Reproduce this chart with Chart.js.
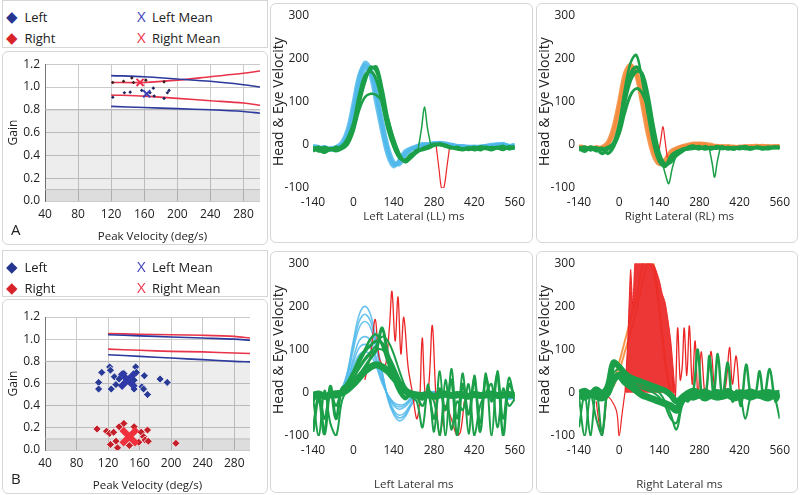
<!DOCTYPE html>
<html>
<head>
<meta charset="UTF-8">
<title>Gain and velocity traces</title>
<script src="https://cdn.jsdelivr.net/npm/chart.js"></script>
<style>
body {margin:0; background:#fff; font-family:"Open Sans", sans-serif; color:#222}
#page {position:relative; width:800px; height:495px; overflow:hidden}
.box {position:absolute; border:1px solid #d6d6d6; border-radius:6px; box-sizing:border-box}
.box div.cv {position:absolute; left:0; top:0; right:0; bottom:0}
.leg {position:absolute; border:1px solid #d6d6d6; box-sizing:border-box}
.it {position:absolute; font-size:13px; white-space:nowrap}
.it b {font-weight:normal; display:inline-block; width:15px; font-size:15px}
.tag {position:absolute; font-size:15px}
</style>
</head>
<body>
<div id="page">
  <div class="leg" style="left:2px;top:0;width:266px;height:48px">
    <span class="it" style="left:3px;top:5px"><b style="color:#26358f">◆</b> Left</span>
    <span class="it" style="left:3px;top:26px"><b style="color:#d8232a">◆</b> Right</span>
    <span class="it" style="left:134px;top:5px"><b style="color:#3a3fb6">X</b>Left Mean</span>
    <span class="it" style="left:134px;top:26px"><b style="color:#f0304a">X</b>Right Mean</span>
  </div>
  <div class="box" style="left:2px;top:51px;width:266px;height:194px"><div class="cv"><canvas id="gainA"></canvas></div></div>
  <div class="tag" style="left:11px;top:219px">A</div>
  <div class="box" style="left:270px;top:3px;width:263px;height:240px"><div class="cv"><canvas id="llA"></canvas></div></div>
  <div class="box" style="left:536px;top:3px;width:262px;height:240px"><div class="cv"><canvas id="rlA"></canvas></div></div>

  <div class="leg" style="left:2px;top:250px;width:266px;height:47px">
    <span class="it" style="left:3px;top:5px"><b style="color:#26358f">◆</b> Left</span>
    <span class="it" style="left:3px;top:26px"><b style="color:#d8232a">◆</b> Right</span>
    <span class="it" style="left:134px;top:5px"><b style="color:#3a3fb6">X</b>Left Mean</span>
    <span class="it" style="left:134px;top:26px"><b style="color:#f0304a">X</b>Right Mean</span>
  </div>
  <div class="box" style="left:2px;top:299px;width:266px;height:195px"><div class="cv"><canvas id="gainB"></canvas></div></div>
  <div class="tag" style="left:11px;top:468px">B</div>
  <div class="box" style="left:270px;top:251px;width:263px;height:242px"><div class="cv"><canvas id="llB"></canvas></div></div>
  <div class="box" style="left:536px;top:251px;width:262px;height:242px"><div class="cv"><canvas id="rlB"></canvas></div></div>
</div>

<script>
// ---- gain panels ----
const velTicks = [40, 80, 120, 160, 200, 240, 280];
const gainTicks = [0, 0.2, 0.4, 0.6, 0.8, 1.0, 1.2];
const lineVel = [120, 160, 200, 240, 280, 300];

// A
const aLeftVel = [122, 136, 143, 157, 167, 171, 172, 184, 188, 190];
const aLeftGain = [0.91, 0.95, 0.955, 0.97, 0.95, 0.99, 0.92, 0.90, 0.95, 0.97];
const aRightVel = [122, 135, 145, 147, 162, 184];
const aRightGain = [1.04, 1.05, 1.08, 1.04, 1.06, 1.045];
const aLeftMean = [163, 0.94];
const aRightMean = [155, 1.04];
const aLeftUpper = [1.10, 1.09, 1.07, 1.05, 1.02, 1.00];
const aLeftLower = [0.83, 0.82, 0.81, 0.80, 0.785, 0.77];
const aRightUpper = [1.04, 1.04, 1.06, 1.09, 1.12, 1.14];
const aRightLower = [0.93, 0.92, 0.90, 0.88, 0.86, 0.84];

// B
const bLeftVel = [108, 108, 112, 122, 123, 124, 128, 130, 134, 140, 141, 153, 155, 156, 153, 163, 165, 166, 170, 186, 195];
const bLeftGain = [0.61, 0.55, 0.70, 0.75, 0.72, 0.55, 0.66, 0.59, 0.64, 0.69, 0.61, 0.63, 0.75, 0.70, 0.55, 0.57, 0.55, 0.67, 0.50, 0.64, 0.61];
const bRightVel = [106, 118, 122, 123, 127, 130, 132, 134, 140, 141, 147, 153, 159, 162, 165, 167, 170, 171, 206];
const bRightGain = [0.19, 0.17, 0.15, 0.05, 0.16, 0.08, 0.02, 0.21, 0.24, 0.16, 0.04, 0.21, 0.07, 0.16, 0.12, 0.09, 0.18, 0.08, 0.06];
const bLeftMean = [145, 0.63];
const bRightMean = [147, 0.12];
const bLeftUpper = [1.04, 1.03, 1.02, 1.01, 1.00, 0.99];
const bLeftLower = [0.86, 0.845, 0.83, 0.815, 0.80, 0.795];
const bRightUpper = [1.05, 1.045, 1.04, 1.035, 1.025, 1.01];
const bRightLower = [0.91, 0.90, 0.89, 0.885, 0.875, 0.87];

// ---- velocity traces ----
const msTicks = [-140, 0, 140, 280, 420, 560];
const velocityTicks = [-100, 0, 100, 200, 300];
const timeMs = [-140,-120,-100,-80,-60,-40,-20,0,20,40,60,80,100,120,140,160,180,200,220,240,260,280,300,320,340,360,380,400,420,440,460,480,500,520,540,560];

// A, left lateral
const llHeadA = [-5,-8,-6,-10,-8,0,25,80,150,190,175,115,45,-15,-45,-40,-20,-10,-5,0,2,3,5,2,0,-3,-5,-5,-4,-6,-3,-2,0,2,-3,0];
const llHeadB = [-3,-5,-10,-8,-5,5,35,95,160,185,160,95,30,-25,-50,-35,-15,-8,-3,2,0,4,3,0,-2,-4,-3,-6,-5,-4,-2,0,1,0,-4,-2];
const llHeadC = [-8,-10,-5,-12,-6,-2,20,70,135,175,170,120,55,-5,-40,-45,-25,-12,-5,-2,0,2,4,3,0,-2,-4,-4,-6,-5,-4,-3,0,1,-2,-1];
const llEyeA = [-10,-5,-15,-8,-12,-5,10,40,100,150,175,180,130,60,10,-25,-40,-30,-18,-10,-5,0,2,-2,-5,-8,-10,-6,-12,-8,-5,-10,-8,-3,-10,-6];
const llEyeB = [-5,-15,-10,-12,-5,-8,5,35,95,145,180,170,120,50,0,-30,-35,-22,-15,-8,-3,2,0,-3,-8,-5,-10,-8,-5,-12,-6,-8,-5,-10,-4,-8];
const llEyeC = [-15,-10,-5,-10,-15,-10,0,30,80,110,118,115,100,60,15,-20,-40,-30,-18,-10,-5,0,3,0,-6,-10,-8,-12,-8,-6,-10,-5,-8,-12,-6,-10];
const llEyeD = [-8,-12,-18,-10,-8,-3,15,50,115,160,170,150,95,35,-5,-30,-35,-25,-12,-12,-8,-2,0,-4,-6,-10,-12,-8,-10,-4,-8,-12,-6,-5,-8,-3];
const llSpikeX = [225, 237, 247, 257, 270];
const llSpikeY = [-10, 40, 88, 40, -5];
const llDipX = [287, 298, 306, 314, 325, 335];
const llDipY = [0, -60, -100, -100, -50, 0];

// A, right lateral
const rlHeadA = [-5,-8,-6,-10,-5,5,40,100,165,185,160,95,25,-25,-45,-35,-15,-8,-3,0,3,2,0,-3,-2,-5,-3,-6,-4,-5,-3,-2,-4,-3,-5,-2];
const rlHeadB = [-3,-6,-10,-5,-8,0,25,85,150,180,170,115,45,-10,-40,-45,-25,-10,-5,-2,0,3,2,0,-4,-3,-5,-4,-6,-3,-5,-4,-2,-5,-3,-4];
const rlEyeA = [-5,-10,-8,-15,-10,-5,5,50,130,190,208,150,70,0,-40,-50,-25,-15,-10,-8,-5,-3,-8,-5,-6,-10,-5,-8,-6,-10,-5,-8,-6,-5,-8,-6];
const rlEyeB = [-10,-5,-12,-8,-20,-10,0,40,115,165,180,160,95,20,-35,-50,-30,-18,-12,-10,-8,-5,-10,-6,-8,-5,-10,-6,-9,-5,-8,-6,-10,-7,-5,-8];
const rlEyeC = [-8,-15,-5,-10,-8,-20,-5,30,100,150,170,165,115,40,-20,-45,-40,-25,-15,-6,-3,-8,-5,-10,-4,-8,-6,-10,-5,-8,-10,-5,-7,-9,-6,-5];
const rlEyeD = [-12,-8,-10,-6,-12,-8,0,25,75,115,130,120,85,25,-25,-45,-35,-20,-10,-8,-6,-10,-4,-8,-6,-5,-8,-10,-6,-4,-8,-6,-9,-5,-7,-6];
const rlDipX = [150, 162, 173, 185, 198];
const rlDipY = [-40, -70, -90, -55, -25];
const rlBumpX = [138, 146, 153, 160, 168];
const rlBumpY = [-20, 15, 42, 10, -30];
const rlDip2X = [315, 325, 333, 342, 352];
const rlDip2Y = [-10, -45, -75, -40, -8];

// B, left lateral
const blHeadA = [-5,-8,-5,-10,-5,10,50,120,180,200,180,120,50,-15,-50,-65,-55,-30,-10,-2,0,3,0,-5,-3,-6,-8,-5,-10,-6,-8,-12,-10,-8,-15,-12];
const blHeadE = [-4,-7,-6,-9,-4,9,45,110,165,182,165,110,45,-12,-45,-58,-50,-28,-9,-1,1,2,-1,-4,-5,-6,-7,-5,-9,-6,-7,-10,-9,-9,-13,-11];
const blHeadB = [-3,-5,-8,-6,-3,8,40,100,150,165,150,100,40,-10,-40,-52,-45,-25,-8,0,2,0,-3,-4,-6,-5,-8,-6,-8,-5,-10,-8,-6,-10,-12,-10];
const blHeadC = [-6,-4,-6,-8,-4,6,30,80,120,130,120,80,30,-8,-30,-38,-32,-18,-6,0,0,2,-2,-5,-4,-6,-5,-8,-6,-8,-6,-10,-8,-6,-10,-8];
const blHeadF = [-5,-5,-4,-7,-5,5,26,70,104,112,104,70,26,-6,-26,-33,-28,-15,-5,0,0,1,-2,-4,-4,-5,-5,-7,-6,-7,-6,-9,-7,-7,-8,-7];
const blHeadD = [-4,-6,-3,-5,-6,4,22,60,88,95,88,60,22,-5,-22,-28,-25,-12,-4,0,1,0,-2,-3,-5,-4,-6,-5,-7,-6,-5,-8,-6,-8,-7,-6];
const blEyeA = [-90,-10,-95,15,-60,10,20,45,70,95,110,120,115,85,45,10,-10,0,-5,-15,5,-10,0,-8,-5,-10,0,-6,-5,-8,-3,-6,-4,-8,-5,-6];
const blEyeB = [-5,-8,-3,-10,-6,-2,15,35,55,75,90,100,100,85,55,25,5,-10,-20,-80,20,-90,50,-100,55,-60,45,-95,40,-70,45,-100,50,-60,35,-20];
const blEyeC = [-10,-100,5,-70,-100,-20,10,30,60,80,95,110,130,120,90,50,15,0,-10,-15,-10,-20,-100,30,-85,-20,-40,20,-100,-30,0,20,-80,10,-30,-15];
const blEyeD = [-8,-5,-12,-6,-10,-3,10,25,40,60,80,100,150,90,60,30,5,-5,-8,-10,-5,-8,-3,-6,-8,-4,-10,-6,-5,-8,-6,-4,-8,-5,-6,-8];
const blEyeE = [-5,-3,-8,-5,-2,0,8,20,35,50,60,65,60,50,35,20,5,-2,-5,-6,-4,-8,-5,-3,-6,-4,-5,-8,-4,-6,-5,-3,-6,-5,-4,-6];
const blEyeF = [-20,-5,-60,0,-30,5,25,50,80,100,125,135,110,70,30,0,-15,-5,-10,-30,-5,-60,10,-40,30,-100,20,-50,30,-90,35,-20,40,-100,20,-10];
const blRedX = [40,60,76,90,110,125,134,145,155,165,175,190,205,220,230,239,250,262,274,286,300,320,340,360,372,385];
const blRedY = [30,90,170,80,60,150,235,120,222,90,175,60,0,-60,-20,127,-10,20,156,0,-100,-30,-60,-100,-90,-20];

// B, right lateral
const brHeadA = [-5,-8,-5,-6,-4,0,25,70,120,170,220,290,330,300,200,80,0,-20,-10,-5,-3,-6,-4,-8,-5,-6,-4,-8,-6,-5,-7,-4,-6,-8,-5,-10];
const brHeadB = [-4,-6,-3,-8,-5,2,15,50,95,140,190,250,300,280,190,70,0,-20,-8,-4,-5,-3,-6,-5,-4,-7,-5,-6,-4,-8,-5,-6,-7,-5,-6,-8];
const brRedTopX = [20,30,40,48,55,65,80,100,115,125,140,150,160,170,180,188,195];
const brRedTopY = [0,120,285,200,300,300,300,300,300,290,260,230,210,170,120,60,0];
const brRedSpikeX = [185,195,204,213,220,227,236,245,255,265,275,286,300,312,321,335,350,370,385,395,408,420];
const brRedSpikeY = [40,-20,150,30,60,150,40,155,20,120,-10,95,-5,50,95,0,-10,10,105,20,85,-10];
const brRedPreX = [-80,-70,-60,-50,-40,-10,0,10,20];
const brRedPreY = [-20,-70,-100,-60,-10,-40,-100,-50,0];
const brEyeA = [-80,-5,-100,10,-90,20,60,65,50,30,20,15,10,5,0,-20,-50,-85,-30,-10,-5,-8,-3,-6,-5,-8,-4,-10,-6,-8,-5,-10,-6,-8,-5,-12];
const brEyeB = [-10,-100,-5,-60,-100,10,45,55,35,25,15,10,5,0,-10,-30,-60,-70,-20,-15,-5,-10,-3,-8,-5,-12,-6,-8,-4,-60,-8,-5,-10,-6,-8,-60];
const brEyeD = [-5,-10,-3,-8,-12,0,30,40,25,15,5,-5,-10,-15,-20,-25,-30,-40,-15,-8,-10,-5,-12,-6,-10,-8,-5,-12,-8,-6,-10,-5,-8,-12,-6,-10];
const brEyeE = [0,5,-2,8,0,15,70,60,45,35,30,25,20,15,10,5,-5,-20,-10,0,5,0,3,-2,2,0,4,-3,1,0,3,-2,0,2,-1,0];
const brOscX = [220,240,260,274,290,305,315,330,344,360,379,395,410,425,443,460,475,490,505,525,545,560];
const brOscY = [-10,-20,10,100,-15,10,85,-5,90,-10,70,-20,5,-30,65,-10,-5,50,-15,55,-20,-5];

const CYAN = 'rgba(80,185,235,0.85)', GREEN = '#1b9f48', ORANGE = 'rgba(244,140,60,0.9)', RED = '#ec2626';
const NAVY = '#2a3b96', DRED = '#c4202a';
const FONT = { family: '"Open Sans", sans-serif', size: 12 };
const XFONT = { family: '"Open Sans", sans-serif', size: 11.5 };
const YFONT = { family: '"Open Sans", sans-serif', size: 14 };

function pts(xs, ys) { return xs.map((x, i) => ({ x: x, y: ys[i] })); }

function trace(xs, ys, color, width, order) {
  return { data: pts(xs, ys), borderColor: color, borderWidth: width, pointRadius: 0, tension: 0.35, order: order, fill: false };
}

function traceChart(id, xTitle, xHeight, titlePad, datasets) {
  return new Chart(document.getElementById(id), {
    type: 'line',
    data: { datasets: datasets },
    options: {
      responsive: true, maintainAspectRatio: false, animation: false,
      layout: { padding: { top: 10, right: 16 } },
      plugins: { legend: { display: false }, tooltip: { enabled: false } },
      scales: {
        x: {
          type: 'linear', min: -140, max: 560,
          afterBuildTicks: s => { s.ticks = msTicks.map(v => ({ value: v })); },
          afterFit: s => { s.height = xHeight; },
          grid: { display: false, drawTicks: false }, border: { display: false },
          ticks: { padding: 7, color: '#222', font: FONT },
          title: { display: true, text: xTitle, color: '#333', font: XFONT, padding: { top: 0, bottom: titlePad } }
        },
        y: {
          min: -100, max: 300,
          afterBuildTicks: s => { s.ticks = velocityTicks.map(v => ({ value: v })); },
          afterFit: s => { s.width = 42; },
          grid: { display: false, drawTicks: false }, border: { display: false },
          ticks: { padding: 4, color: '#222', font: FONT },
          title: { display: true, text: 'Head & Eye Velocity', color: '#222', font: YFONT, padding: 0 }
        }
      }
    }
  });
}

function bandLine(y, color, fillColor, order) {
  return { data: [{ x: 40, y: y }, { x: 300, y: y }], showLine: true, fill: 'origin', backgroundColor: fillColor,
           borderColor: color, borderWidth: 1, pointRadius: 0, order: order };
}
function gainLine(ys, color) {
  return { data: pts(lineVel, ys), showLine: true, borderColor: color, borderWidth: 1.6, pointRadius: 0, tension: 0.3, order: 5 };
}
function dots(xs, ys, color, r, border) {
  return { data: pts(xs, ys), pointStyle: 'rectRot', pointRadius: r, backgroundColor: color,
           borderColor: border, borderWidth: border ? 1 : 0, order: 2 };
}
function meanMark(m, color, r, w) {
  return { data: [{ x: m[0], y: m[1] }], pointStyle: 'crossRot', pointRadius: r, borderColor: color, borderWidth: w, order: 1 };
}

function gainChart(id, datasets) {
  return new Chart(document.getElementById(id), {
    type: 'scatter',
    data: { datasets: datasets },
    options: {
      responsive: true, maintainAspectRatio: false, animation: false,
      layout: { padding: { top: 9, right: 0 } },
      plugins: { legend: { display: false }, tooltip: { enabled: false } },
      scales: {
        x: {
          type: 'linear', min: 40, max: 300,
          afterBuildTicks: s => { s.ticks = velTicks.map(v => ({ value: v })); },
          afterFit: s => { s.height = 43; },
          grid: { color: '#cacaca', drawTicks: false }, border: { display: false },
          ticks: { padding: 6, color: '#222', font: FONT },
          title: { display: true, text: 'Peak Velocity (deg/s)', color: '#222', font: XFONT, padding: 0 }
        },
        y: {
          min: 0, max: 1.2,
          afterBuildTicks: s => { s.ticks = gainTicks.map(v => ({ value: v })); },
          afterFit: s => { s.width = 42; },
          grid: { color: '#cacaca', drawTicks: false }, border: { display: true, color: '#777' },
          ticks: { padding: 5, color: '#222', font: FONT, callback: v => v.toFixed(1) },
          title: { display: true, text: 'Gain', color: '#222', font: FONT, padding: { top: 3, bottom: 0 } }
        }
      }
    }
  });
}

gainChart('gainA', [
  meanMark(aLeftMean, '#3a3fb6', 5, 2),
  meanMark(aRightMean, '#f0304a', 5, 2),
  dots(aLeftVel, aLeftGain, '#1e2560', 1.8, null),
  dots(aRightVel, aRightGain, '#3a1c1c', 1.8, null),
  gainLine(aLeftUpper, '#2b3a9c'), gainLine(aLeftLower, '#2b3a9c'),
  gainLine(aRightUpper, '#e8344a'), gainLine(aRightLower, '#e8344a'),
  bandLine(0.1, '#bdbdbd', 'rgba(0,0,0,0.07)', 8),
  bandLine(0.8, '#b5b5b5', 'rgba(0,0,0,0.07)', 9)
]);

gainChart('gainB', [
  meanMark(bLeftMean, '#2f3aa8', 11, 6),
  meanMark(bRightMean, '#f0303c', 11, 6),
  dots(bLeftVel, bLeftGain, NAVY, 4, 'rgba(255,255,255,0.7)'),
  dots(bRightVel, bRightGain, DRED, 4, 'rgba(255,255,255,0.7)'),
  gainLine(bLeftUpper, '#2b3a9c'), gainLine(bLeftLower, '#2b3a9c'),
  gainLine(bRightUpper, '#e8344a'), gainLine(bRightLower, '#e8344a'),
  bandLine(0.1, '#bdbdbd', 'rgba(0,0,0,0.07)', 8),
  bandLine(0.8, '#b5b5b5', 'rgba(0,0,0,0.07)', 9)
]);

traceChart('llA', 'Left Lateral (LL) ms', 54, 18, [
  trace(timeMs, llEyeA, GREEN, 3, 1), trace(timeMs, llEyeB, GREEN, 3, 1),
  trace(timeMs, llEyeC, GREEN, 2.5, 1), trace(timeMs, llEyeD, GREEN, 3, 1),
  trace(llSpikeX, llSpikeY, GREEN, 1.5, 1),
  trace(llDipX, llDipY, RED, 1.2, 2),
  trace(timeMs, llHeadA, CYAN, 4, 3), trace(timeMs, llHeadB, CYAN, 4, 3), trace(timeMs, llHeadC, CYAN, 4, 3)
]);

traceChart('rlA', 'Right Lateral (RL) ms', 54, 18, [
  trace(timeMs, rlEyeA, GREEN, 2.5, 1), trace(timeMs, rlEyeB, GREEN, 3.5, 1),
  trace(timeMs, rlEyeC, GREEN, 3.5, 1), trace(timeMs, rlEyeD, GREEN, 3, 1),
  trace(rlDipX, rlDipY, GREEN, 1.5, 1), trace(rlDip2X, rlDip2Y, GREEN, 1.5, 1),
  trace(rlBumpX, rlBumpY, RED, 1.2, 2),
  trace(timeMs, rlHeadA, ORANGE, 4, 3), trace(timeMs, rlHeadB, ORANGE, 4, 3)
]);

traceChart('llB', 'Left Lateral ms', 56, 0, [
  trace(timeMs, blEyeA, GREEN, 3, 1), trace(timeMs, blEyeB, GREEN, 2, 1),
  trace(timeMs, blEyeC, GREEN, 2, 1), trace(timeMs, blEyeD, GREEN, 3, 1),
  trace(timeMs, blEyeE, GREEN, 7, 1), trace(timeMs, blEyeF, GREEN, 2.5, 1),
  trace(blRedX, blRedY, RED, 1.3, 2),
  trace(timeMs, blHeadA, CYAN, 1.6, 3), trace(timeMs, blHeadE, CYAN, 1.6, 3),
  trace(timeMs, blHeadB, CYAN, 1.6, 3), trace(timeMs, blHeadC, CYAN, 1.6, 3),
  trace(timeMs, blHeadF, CYAN, 1.6, 3), trace(timeMs, blHeadD, CYAN, 1.6, 3)
]);

const redBlock = trace(brRedTopX, brRedTopY, RED, 1, 2);
redBlock.fill = 'origin';
redBlock.backgroundColor = 'rgba(236,38,38,0.92)';
redBlock.tension = 0.2;

traceChart('rlB', 'Right Lateral ms', 56, 0, [
  trace(timeMs, brEyeA, GREEN, 2, 1), trace(timeMs, brEyeB, GREEN, 2, 1),
  trace(timeMs, brEyeD, GREEN, 7, 1), trace(timeMs, brEyeE, GREEN, 6, 1),
  trace(brOscX, brOscY, GREEN, 2.5, 1),
  redBlock,
  trace(brRedSpikeX, brRedSpikeY, RED, 1.3, 2), trace(brRedPreX, brRedPreY, RED, 1.2, 2),
  trace(timeMs, brHeadA, ORANGE, 2, 3), trace(timeMs, brHeadB, ORANGE, 2, 3)
]);
</script>
</body>
</html>
